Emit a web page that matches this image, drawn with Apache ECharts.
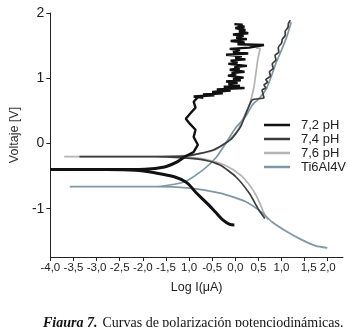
<!DOCTYPE html>
<html>
<head>
<meta charset="utf-8">
<script src="https://cdn.jsdelivr.net/npm/echarts@6/dist/echarts.min.js"></script>
<style>
html,body{margin:0;padding:0;background:#fff;}
#c{width:348px;height:327px;}
</style>
</head>
<body>
<div id="c"></div>
<script>
// ---- data: [log I (uA), Voltage (V)] ----
const seriesNames = ['7,2 pH', '7,4 pH', '7,6 pH', 'Ti6Al4V'];

const ph72Cathodic = [
  [-0.02,-1.25],[-0.12,-1.24],[-0.27,-1.17],[-0.43,-1.05],[-0.62,-0.91],[-0.84,-0.76],
  [-1.05,-0.60],[-1.32,-0.51],[-1.74,-0.45],[-2.16,-0.41],[-2.8,-0.40],[-4.0,-0.40],
  [-2.8,-0.40],[-1.95,-0.395],[-1.53,-0.36],[-1.28,-0.29],[-1.11,-0.21]
];
const ph72Anodic = [
  [-1.11,-0.21],[-0.90,-0.13],[-0.81,-0.02],[-0.90,0.10],[-0.86,0.21],[-0.98,0.30],[-1.07,0.38],
  [-0.96,0.47],[-0.86,0.55],[-0.90,0.64],[-0.81,0.71],
  [-0.69,0.70],[-0.90,0.72],[-0.45,0.74],[-0.70,0.75],[-0.27,0.77],[-0.50,0.79],
  [-0.10,0.81],[-0.40,0.83],[0.20,0.85],[-0.25,0.87],[0.10,0.88],[-0.15,0.91],
  [0.05,0.93],[-0.20,0.95],[0.12,0.97],[-0.05,0.99],[0.18,1.01],[-0.16,1.04],
  [0.02,1.06],[-0.08,1.08],[0.20,1.10],[-0.12,1.13],[0.10,1.15],[-0.02,1.17],
  [0.25,1.19],[-0.15,1.22],[0.05,1.24],[-0.10,1.27],[0.22,1.29],[0.00,1.31],
  [0.14,1.34],[-0.20,1.36],[0.28,1.38],[-0.05,1.40],[0.10,1.43],[-0.12,1.45],
  [0.30,1.47],[0.62,1.51],[0.05,1.52],[0.20,1.55],[-0.10,1.57],[0.25,1.60],
  [0.02,1.62],[0.18,1.65],[-0.05,1.67],[0.28,1.69],[0.08,1.72],[0.22,1.74],
  [0.00,1.77],[0.20,1.79],[0.05,1.81],[0.16,1.82],[-0.02,1.83]
];

const ph74 = [
  [0.64,-1.15],[0.51,-1.02],[0.30,-0.76],[0.01,-0.51],[-0.33,-0.33],[-0.69,-0.25],
  [-1.11,-0.22],[-1.74,-0.20],[-3.37,-0.20],[-1.74,-0.20],[-1.05,-0.19],[-0.48,-0.10],
  [-0.10,0.06],[0.11,0.25],[0.26,0.51],[0.37,0.67],[0.62,0.70],[0.58,0.82],
  [0.66,0.85],[0.62,0.90],[0.70,0.94],[0.66,0.98],[0.76,1.03],[0.74,1.10],
  [0.82,1.15],[0.80,1.22],[0.88,1.28],[0.86,1.35],[0.94,1.40],[0.93,1.47],
  [1.00,1.54],[1.02,1.60],[1.08,1.66],[1.08,1.72],[1.14,1.78],[1.15,1.84],[1.19,1.89]
];

const ph76 = [
  [0.72,-1.17],[0.66,-1.12],[0.58,-1.00],[0.47,-0.82],[0.30,-0.63],[0.11,-0.48],
  [-0.20,-0.34],[-0.60,-0.25],[-1.05,-0.21],[-1.74,-0.20],[-3.70,-0.20],[-1.74,-0.20],
  [-1.20,-0.19],[-0.80,-0.16],[-0.45,-0.10],[-0.18,0.03],[0.05,0.20],[0.18,0.40],
  [0.30,0.58],[0.40,0.85],[0.45,1.10],[0.49,1.30],[0.54,1.46],[0.45,1.46]
];

const ti6al4v = [
  [1.99,-1.60],[1.74,-1.57],[1.42,-1.47],[1.11,-1.35],[0.79,-1.20],[0.58,-1.06],
  [0.22,-0.89],[-0.33,-0.76],[-1.05,-0.68],[-1.74,-0.66],[-3.58,-0.66],[-1.74,-0.66],
  [-1.11,-0.59],[-0.69,-0.40],[-0.41,-0.21],[-0.20,0.01],[0.01,0.24],[0.22,0.41],
  [0.37,0.59],[0.54,0.71],[0.68,0.85],[0.79,1.05],[0.89,1.25],[1.00,1.43],
  [1.11,1.63],[1.21,1.86]
];

const xTickValues = [-4,-3.5,-3,-2.5,-2,-1.5,-1,-0.5,0,0.5,1,1.5,2];
const xTickLabels = ['-4,0','-3,5','-3,0','-2,5','-2,0','-1,5','1,0','-0,5','0,0','0,5','1,0','1,5','2,0'];
const yTickValues = [-1,0,1,2];
const yTickLabels = ['-1','0','1','2'];

const colors = {'7,2 pH':'#111111','7,4 pH':'#3c3c3c','7,6 pH':'#b3b3b3','Ti6Al4V':'#7f98a4'};

const chart = echarts.init(document.getElementById('c'), null, {renderer:'canvas'});
const font = 'Liberation Sans, Arial, sans-serif';

function lineSeries(name, data, width, z, smooth) {
  return {
    name: name, type: 'line', data: data,
    symbol: 'none', showSymbol: false, smooth: smooth, z: z,
    color: colors[name],
    lineStyle: {color: colors[name], width: width},
    itemStyle: {color: colors[name]}
  };
}

chart.setOption({
  animation: false,
  backgroundColor: '#ffffff',
  title: {
    text: '{b|Figura 7.} {r|Curvas de polarización potenciodinámicas.}',
    left: 38, top: 309,
    textStyle: {
      fontWeight: 'normal',
      rich: {
        b: {fontFamily: 'Liberation Serif, serif', fontSize: 14, fontStyle: 'italic', fontWeight: 'bold', color: '#111'},
        r: {fontFamily: 'Liberation Serif, serif', fontSize: 14, fontWeight: 'normal', color: '#111'}
      }
    }
  },
  legend: {
    orient: 'vertical',
    left: 259, top: 113,
    icon: 'rect',
    itemWidth: 26, itemHeight: 2.5, itemGap: 0,
    data: seriesNames,
    textStyle: {fontFamily: font, fontSize: 13, color: '#222', lineHeight: 14, padding: [0,0,0,6]}
  },
  grid: {left: 43, top: 13, right: 5, bottom: 70, containLabel: false},
  xAxis: {
    type: 'value', min: -4, max: 2.33,
    name: 'Log I(μA)', nameLocation: 'middle', nameGap: 24,
    nameTextStyle: {fontFamily: font, fontSize: 12.5, color: '#222'},
    axisLine: {show: true, onZero: false, lineStyle: {color: '#222', width: 1}},
    axisTick: {show: true, length: 4, customValues: xTickValues, lineStyle: {color: '#222'}},
    splitLine: {show: false},
    axisLabel: {
      customValues: xTickValues, margin: 5,
      fontFamily: font, fontSize: 11.5, color: '#222',
      formatter: function (v) {
        for (let i = 0; i < xTickValues.length; i++) {
          if (Math.abs(xTickValues[i] - v) < 1e-6) {
            return xTickLabels[i] === '1,5' ? '{s|1,5}' : xTickLabels[i];
          }
        }
        return '';
      },
      rich: {s: {fontFamily: font, fontSize: 11.5, color: '#222', padding: [0,0,0,8]}}
    }
  },
  yAxis: {
    type: 'value', min: -1.74, max: 2,
    name: 'Voltaje [V]', nameLocation: 'middle', nameGap: 25,
    nameTextStyle: {fontFamily: font, fontSize: 12.5, color: '#333'},
    axisLine: {show: true, onZero: false, lineStyle: {color: '#222', width: 1}},
    axisTick: {show: true, length: 4, customValues: yTickValues, lineStyle: {color: '#222'}},
    splitLine: {show: false},
    axisLabel: {
      customValues: yTickValues, margin: 6,
      fontFamily: font, fontSize: 14, color: '#1c1c2a',
      formatter: function (v) {
        for (let i = 0; i < yTickValues.length; i++) {
          if (Math.abs(yTickValues[i] - v) < 1e-6) return yTickLabels[i];
        }
        return '';
      }
    }
  },
  series: [
    lineSeries('7,6 pH', ph76, 1.7, 2, 0.2),
    lineSeries('Ti6Al4V', ti6al4v, 1.7, 3, 0.2),
    lineSeries('7,4 pH', ph74, 1.7, 4, 0.2),
    lineSeries('7,2 pH', ph72Cathodic, 3, 5, 0.3),
    lineSeries('7,2 pH', ph72Anodic, 2.4, 5, false)
  ]
});
</script>
</body>
</html>
